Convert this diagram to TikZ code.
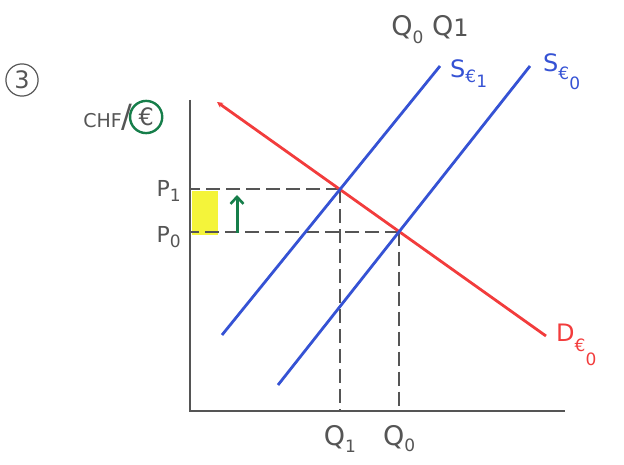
\documentclass[tikz,border=0pt]{standalone}
\usepackage{fontspec}
\setmainfont{DejaVu Sans}
\usetikzlibrary{arrows.meta,positioning,calc,intersections}
\definecolor{supblue}{HTML}{3552D4}
\definecolor{demred}{HTML}{F23C3C}
\definecolor{eurgreen}{HTML}{167E4A}
\definecolor{gapyellow}{HTML}{F4F43A}
\definecolor{pencil}{HTML}{555555}
\newcommand\subsize{\fontsize{17}{17}\selectfont}
\newcommand\dropped[2]{\raisebox{-#1}{\subsize #2}}
\tikzset{
  axis/.style={
    draw=pencil,
    line width=2.4pt
  },
  guide/.style={
    draw=pencil,
    line width=2pt,
    dash pattern=on 14pt off 6pt
  },
  supply/.style={
    draw=supblue,
    line width=2.8pt
  },
  demand/.style={
    draw=demred,
    line width=2.8pt
  },
  rise/.style={
    -{Straight Barb[length=7pt,width=13pt,line width=2.6pt]},
    draw=eurgreen,
    line width=3pt
  },
  qlabel/.style={
    text=pencil,
    font=\fontsize{27}{27}\selectfont,
    inner sep=1pt
  },
  plabel/.style={
    text=pencil,
    font=\fontsize{22}{22}\selectfont,
    inner sep=1pt
  },
  curvelabel/.style={
    font=\fontsize{24}{24}\selectfont,
    inner sep=1pt,
    anchor=west
  }
}

\begin{document}
\begin{tikzpicture}[x=1pt,y=-1pt]
\useasboundingbox (0,0) rectangle (624,465);
% axes
\coordinate (O) at (190,411);
\coordinate (ytop) at (190,100);
\coordinate (xend) at (565,411);
% curves
\coordinate (dtop) at (217,102);
\coordinate (dend) at (546,336);
\coordinate (s1low) at (222,335);
\coordinate (s1high) at (440,66);
\coordinate (s0low) at (278,385);
\coordinate (s0high) at (530,66);
\path[name path=dem] (dtop) -- (dend);
\path[name path=sup1] (s1low) -- (s1high);
\path[name path=sup0] (s0low) -- (s0high);
\path[name intersections={of=dem and sup1, by=E1}];
\path[name intersections={of=dem and sup0, by=E0}];
\coordinate (p1tick) at (E1 -| O);
\coordinate (p0tick) at (E0 -| O);
\coordinate (q1tick) at (E1 |- O);
\coordinate (q0tick) at (E0 |- O);
% price gap
\fill[gapyellow] ($(p1tick)+(2,2)$) rectangle ($(p0tick)+(28,3)$);
\draw[guide] (E1) -- (p1tick);
\draw[guide] (E0) -- (p0tick);
\draw[guide] (E1) -- (q1tick);
\draw[guide] (E0) -- (q0tick);
\draw[axis] (ytop) -- (O) -- (xend);
\draw[demand, {Stealth[length=6pt,width=6pt]}-] (dtop) -- (dend);
\draw[supply] (s1low) -- (s1high);
\draw[supply] (s0low) -- (s0high);
\coordinate (upfoot) at (237,233);
\coordinate (uphead) at (237,195);
\draw[rise] (upfoot) -- (uphead);
% labels
\node[plabel, left=8pt of p1tick, yshift=-2pt] (p1) {P\dropped{5pt}{1}};
\node[plabel, left=8pt of p0tick, yshift=-6pt] (p0) {P\dropped{5pt}{0}};
\node[qlabel, below=13pt of q1tick] (q1) {Q\dropped{7pt}{1}};
\node[qlabel, below=13pt of q0tick] (q0) {Q\dropped{6pt}{0}};
\node[qlabel] (qtop) at (430,30) {Q\dropped{8pt}{0} Q\dropped{1pt}{\fontsize{24}{24}\selectfont 1}};
\node[curvelabel, text=supblue] (s1) at (449,74) {S\dropped{5pt}{€}\dropped{10pt}{1}};
\node[curvelabel, text=supblue] (s0) at (542,72) {S\dropped{8pt}{€}\dropped{18pt}{0}};
\node[curvelabel, text=demred] (d0) at (555,345) {D\dropped{10pt}{€}\dropped{24pt}{0}};
\node[draw=pencil, circle, line width=1.2pt, inner sep=3pt, text=pencil, font=\fontsize{24}{24}\selectfont] (num) at (22,80) {3};
\node[text=pencil, font=\fontsize{19}{19}\selectfont, inner sep=1pt] (chf) at (108,117) {CHF\fontsize{32}{32}\selectfont/};
\node[draw=eurgreen, circle, line width=2.4pt, inner sep=3pt, text=pencil, font=\fontsize{24}{24}\selectfont, right=-5pt of chf] (eur) {€};
\end{tikzpicture}
\end{document}
